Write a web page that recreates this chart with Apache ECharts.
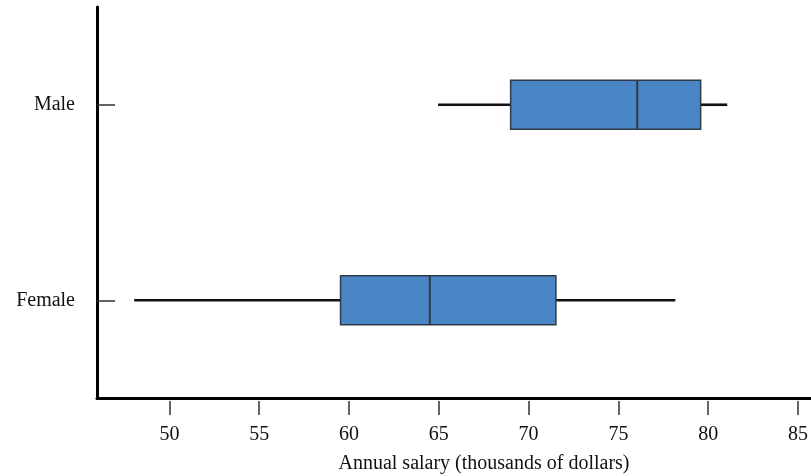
<!DOCTYPE html>
<html>
<head>
<meta charset="utf-8">
<script src="https://cdn.jsdelivr.net/npm/echarts@6/dist/echarts.min.js"></script>
<style>
html,body{margin:0;padding:0;background:#fff;}
#chart{width:811px;height:476px;}
</style>
</head>
<body>
<div id="chart"></div>
<script>
var categories = ['Female', 'Male'];
var whiskerLow = [48.04, 64.96];
var q1Values = [59.53, 69.0];
var medianValues = [64.5, 76.05];
var q3Values = [71.52, 79.58];
var whiskerHigh = [78.17, 81.06];
var tickValues = [50, 55, 60, 65, 70, 75, 80, 85];
var xTitle = 'Annual salary (thousands of dollars)';

var seriesData = categories.map(function (c, i) {
  return [i, whiskerLow[i], q1Values[i], medianValues[i], q3Values[i], whiskerHigh[i]];
});

var FONT = '"Liberation Serif", "Times New Roman", serif';
var xMin = 45.97, xMax = 85.70;

function renderItem(params, api) {
  var cat = api.value(0);
  var lo = api.coord([api.value(1), cat]);
  var q1 = api.coord([api.value(2), cat]);
  var md = api.coord([api.value(3), cat]);
  var q3 = api.coord([api.value(4), cat]);
  var hi = api.coord([api.value(5), cat]);
  var band = api.size([0, 1])[1];
  var h = band * 0.25;
  var y = lo[1];
  return {
    type: 'group',
    children: [
      { type: 'line', shape: { x1: lo[0], y1: y, x2: q1[0], y2: y },
        style: { stroke: '#111', lineWidth: 2.6 } },
      { type: 'line', shape: { x1: q3[0], y1: y, x2: hi[0], y2: y },
        style: { stroke: '#111', lineWidth: 2.6 } },
      { type: 'rect', shape: { x: q1[0], y: y - h / 2, width: q3[0] - q1[0], height: h },
        style: { fill: '#4A86C5', stroke: '#2E3B4A', lineWidth: 1.5 } },
      { type: 'line', shape: { x1: md[0], y1: y - h / 2, x2: md[0], y2: y + h / 2 },
        style: { stroke: '#2E3B4A', lineWidth: 2 } }
    ]
  };
}

var chart = echarts.init(document.getElementById('chart'), null, { renderer: 'canvas' });
chart.setOption({
  animation: false,
  backgroundColor: '#fff',
  grid: { left: 97, right: 0, top: 7, bottom: 78, containLabel: false },
  xAxis: [
    {
      type: 'value', min: xMin, max: xMax,
      axisLine: { show: true, lineStyle: { color: '#000', width: 3 } },
      axisTick: { show: false }, axisLabel: { show: false }, splitLine: { show: false }
    },
    {
      type: 'value', min: xMin, max: xMax, position: 'bottom', offset: 3,
      axisLine: { show: false },
      axisTick: { show: true, length: 14, customValues: tickValues, lineStyle: { color: '#333', width: 1.5 } },
      axisLabel: { show: true, customValues: tickValues, margin: 24, color: '#111',
        fontFamily: FONT, fontSize: 20 },
      splitLine: { show: false }
    }
  ],
  yAxis: {
    type: 'category', data: categories,
    axisLine: { show: true, lineStyle: { color: '#000', width: 3 } },
    axisTick: { show: true, inside: true, length: 18, alignWithLabel: true,
      lineStyle: { color: '#333', width: 1.5 } },
    axisLabel: { margin: 22, color: '#111', fontFamily: FONT, fontSize: 20 },
    splitLine: { show: false }
  },
  graphic: [{
    type: 'text', x: 484, y: 464,
    style: { text: xTitle, font: '20px ' + FONT, fill: '#111', textAlign: 'center', textVerticalAlign: 'middle' }
  }],
  series: [{
    type: 'custom', xAxisIndex: 0, yAxisIndex: 0,
    renderItem: renderItem,
    encode: { x: [1, 2, 3, 4, 5], y: 0 },
    data: seriesData
  }]
});
</script>
</body>
</html>
